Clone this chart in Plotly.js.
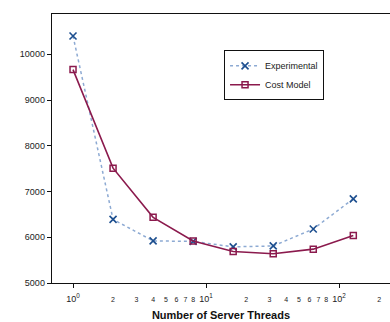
<!DOCTYPE html>
<html>
<head>
<meta charset="utf-8">
<script src="https://cdn.plot.ly/plotly-3.0.1.min.js"></script>
<style>html,body{margin:0;padding:0;background:#fff;}#chart{width:390px;height:322px;}</style>
</head>
<body>
<div id="chart"></div>
<script>
// Data
var threads = [1, 2, 4, 8, 16, 32, 64, 128];
var experimental = [10400, 6390, 5920, 5910, 5790, 5810, 6180, 6840];
var costModel = [9665, 7510, 6435, 5920, 5690, 5640, 5740, 6040];
var seriesNames = ['Experimental', 'Cost Model'];

// Tick labels
var xTickVals = [1, 2, 3, 4, 5, 6, 7, 8, 10, 20, 30, 40, 50, 60, 70, 80, 100, 200];
var xTickLabels = ['10<sup>0</sup>', '2', '3', '4', '5', '6', '7', '8', '10<sup>1</sup>', '2', '3', '4', '5', '6', '7', '8', '10<sup>2</sup>', '2'];
var xMajorVals = [1, 10, 100];
var yTickVals = [5000, 6000, 7000, 8000, 9000, 10000];
var yTickLabels = ['5000', '6000', '7000', '8000', '9000', '10000'];
var xTitle = 'Number of Server Threads';

var tickText = xTickLabels.map(function (t) {
  return t.indexOf('10') === 0 ? t : '<span style="font-size:7px">' + t + '</span>';
});

var traces = [
  {
    x: threads, y: experimental, name: seriesNames[0], type: 'scatter', mode: 'lines+markers',
    line: {color: '#8daad3', width: 1.5, dash: 'dot'},
    marker: {symbol: 'x-thin-open', size: 7, color: '#1d4f8f', line: {color: '#1d4f8f', width: 1.6}}
  },
  {
    x: threads, y: costModel, name: seriesNames[1], type: 'scatter', mode: 'lines+markers',
    line: {color: '#8b1a4d', width: 1.6},
    marker: {symbol: 'square-open', size: 6, color: '#8b1a4d', line: {color: '#8b1a4d', width: 1.5}}
  }
];

var layout = {
  width: 390, height: 322,
  margin: {l: 52, r: 0, t: 14, b: 39, pad: 0},
  paper_bgcolor: '#fff', plot_bgcolor: '#fff',
  font: {family: 'Liberation Sans, Arial, sans-serif', size: 9, color: '#222'},
  showlegend: true,
  legend: {
    x: 0.509, y: 0.865, xanchor: 'left', yanchor: 'top',
    bgcolor: '#fff', bordercolor: '#111', borderwidth: 1,
    font: {size: 9, color: '#222'}, itemwidth: 30, tracegroupgap: 0
  },
  xaxis: {
    type: 'log', range: [-0.158, 2.383],
    showline: true, linecolor: '#111', linewidth: 1.3, mirror: true,
    showgrid: false, zeroline: false,
    tickmode: 'array', tickvals: xTickVals, ticktext: tickText,
    ticks: 'outside', ticklen: 4, tickcolor: 'rgba(0,0,0,0)',
    ticklabelstandoff: 3,
    tickfont: {size: 9, color: '#222'},
    minor: {tickmode: 'array', tickvals: xMajorVals, ticks: 'outside', ticklen: 4, tickcolor: '#111', tickwidth: 1, showgrid: false},
    title: {text: '<b>' + xTitle + '</b>', font: {size: 11, color: '#111'}, standoff: 8}
  },
  yaxis: {
    range: [5000, 10880],
    showline: true, linecolor: '#111', linewidth: 1.3, mirror: false,
    showgrid: false, zeroline: false,
    tickmode: 'array', tickvals: yTickVals, ticktext: yTickLabels,
    ticks: 'outside', ticklen: 4, tickcolor: '#111', tickwidth: 1,
    tickfont: {size: 9, color: '#222'}
  }
};

Plotly.newPlot('chart', traces, layout, {displayModeBar: false, staticPlot: true});
</script>
</body>
</html>
